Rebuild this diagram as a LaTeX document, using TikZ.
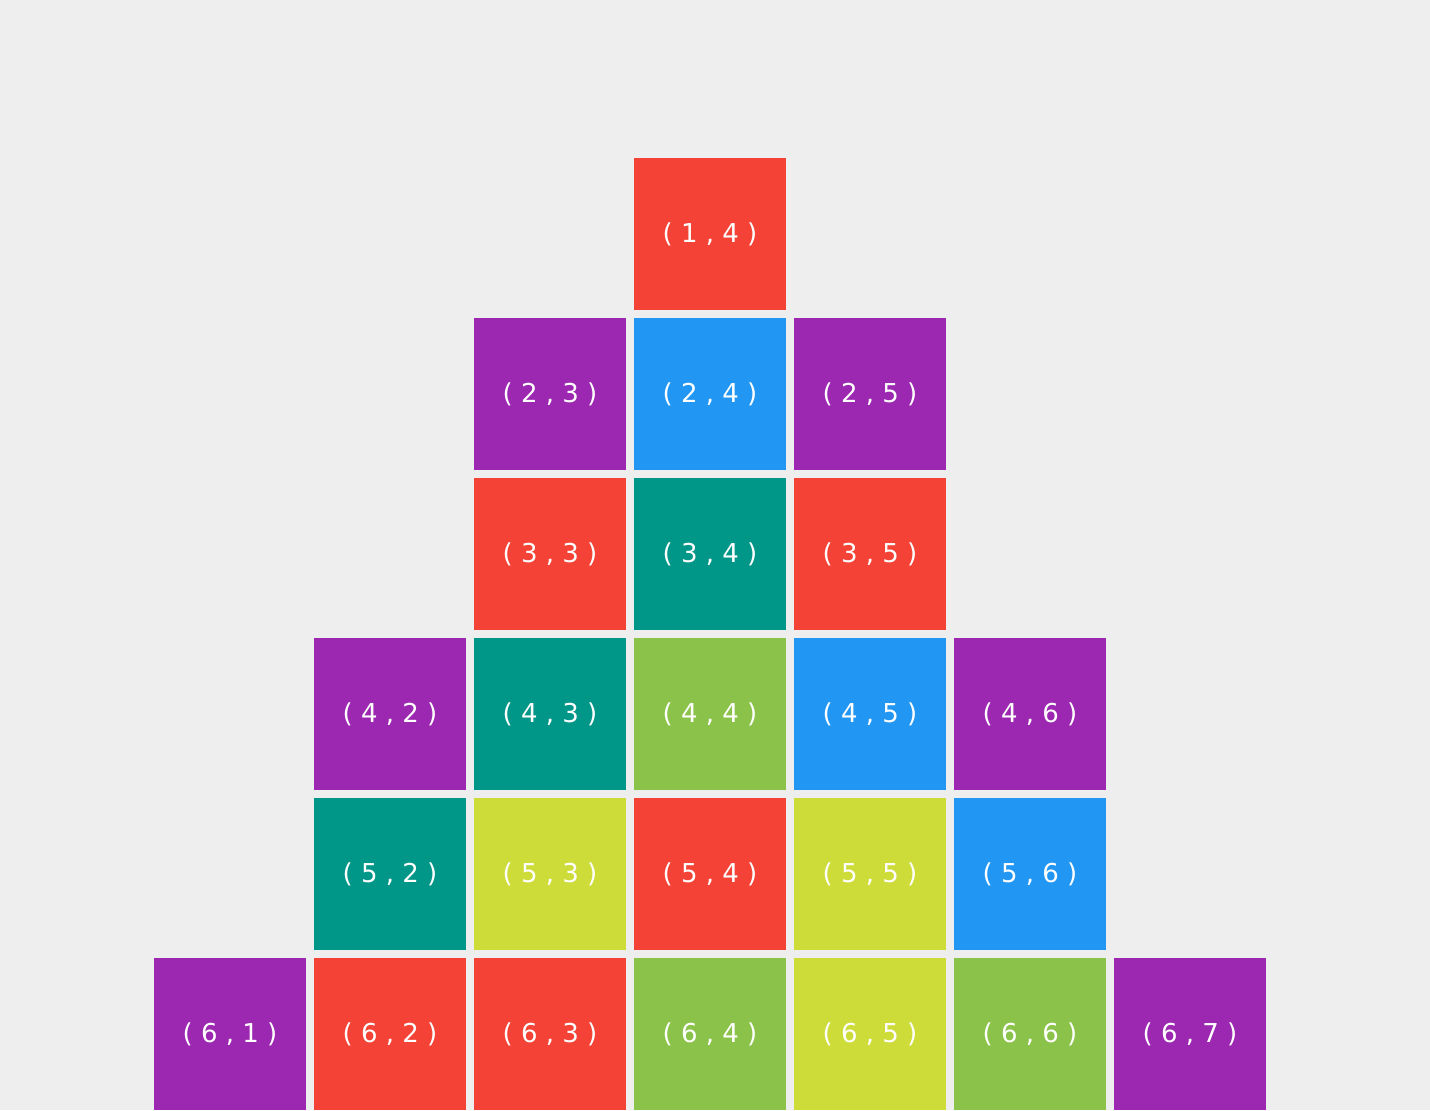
\documentclass[tikz,border=0pt]{standalone}
\usepackage{fontspec}
\setsansfont{DejaVu Sans}
\usepackage{tikz}
\usetikzlibrary{positioning}

\definecolor{bggray}{HTML}{EEEEEE}
\definecolor{cpurple}{HTML}{9C27B0}
\definecolor{cred}{HTML}{F44336}
\definecolor{cblue}{HTML}{2196F3}
\definecolor{cteal}{HTML}{009688}
\definecolor{cgreen}{HTML}{8BC34A}
\definecolor{clime}{HTML}{CDDC39}

\begin{document}
\begin{tikzpicture}[x=0.5pt, y=-0.5pt,
        cell/.style = {minimum size=76pt, inner sep=0pt, text=white,
            font=\sffamily\fontsize{13}{13}\selectfont}]
    \fill[bggray] (0,0) rectangle (1430,1110);

    \foreach \r/\c/\col in {1/4/cred,
            2/3/cpurple, 2/4/cblue, 2/5/cpurple,
            3/3/cred, 3/4/cteal, 3/5/cred,
            4/2/cpurple, 4/3/cteal, 4/4/cgreen, 4/5/cblue, 4/6/cpurple,
            5/2/cteal, 5/3/clime, 5/4/cred, 5/5/clime, 5/6/cblue,
            6/1/cpurple, 6/2/cred, 6/3/cred, 6/4/cgreen, 6/5/clime, 6/6/cgreen, 6/7/cpurple}
        \node[cell, fill=\col] (p\r\c) at ({230+(\c-1)*160}, {234+(\r-1)*160}) {(\ \r\ ,\ \c\ )};
\end{tikzpicture}
\end{document}
